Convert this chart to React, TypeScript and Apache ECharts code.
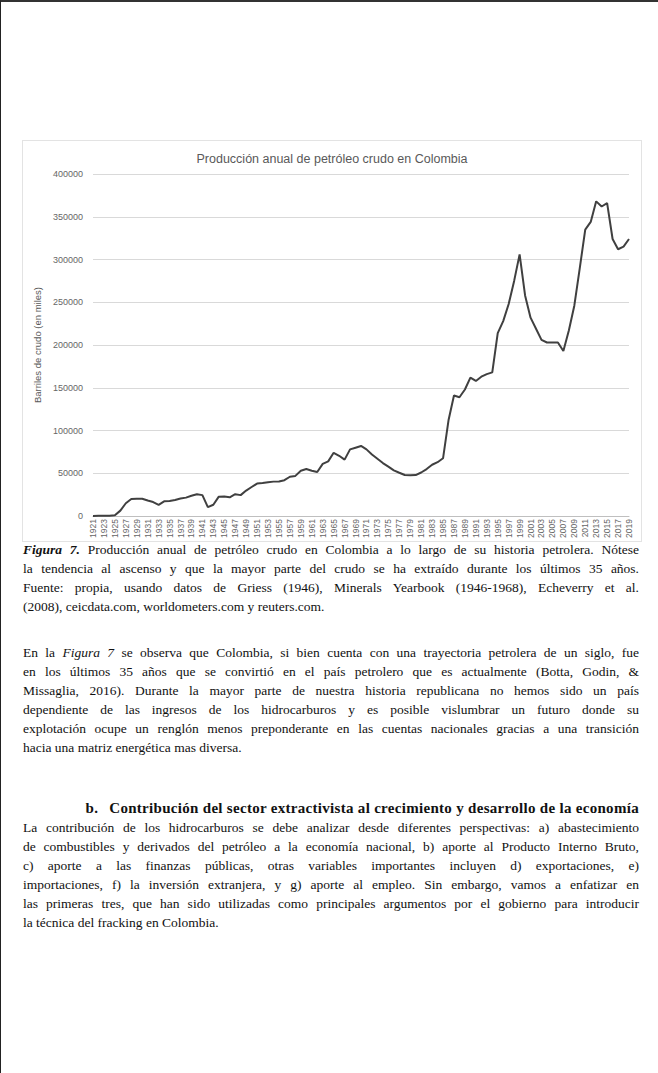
import React, { useEffect, useRef } from "react";
import * as echarts from "echarts";

const chartTitle = "Producción anual de petróleo crudo en Colombia";
const yAxisName = "Barriles de crudo (en miles)";

const years: string[] = Array.from({ length: 99 }, (_, i) => String(1921 + i));

const production: number[] = [
  100, 300, 400, 500, 1000, 6400, 15000, 20000, 20400, 20300,
  18200, 16400, 13200, 17300, 17600, 18800, 20500, 21600, 23800, 25600,
  24500, 10500, 13300, 22700, 22800, 22000, 25600, 24500, 29800, 34000,
  38000, 38700, 39600, 40300, 40500, 42000, 46000, 47000, 53000, 55000,
  53000, 51500, 61000, 64000, 74000, 70500, 66000, 78000, 80000, 82000,
  78000, 72000, 67000, 62000, 57800, 53500, 50700, 48000, 47800, 48000,
  51000, 55000, 60000, 63000, 67600, 112000, 141000, 139000, 148000, 162000,
  158000, 163000, 166000, 168000, 214000, 228000, 248000, 275000, 306000, 258000,
  232000, 219000, 206000, 203000, 203000, 203000, 193000, 217000, 246000, 290000,
  335000, 344000, 368000, 362000, 366000, 324000, 312000, 315000, 324000,
];

const captionLines: string[] = [
  "<i><b>Figura 7.</b></i> Producción anual de petróleo crudo en Colombia a lo largo de su historia petrolera. Nótese",
  "la tendencia al ascenso y que la mayor parte del crudo se ha extraído durante los últimos 35 años.",
  "Fuente: propia, usando datos de Griess (1946), Minerals Yearbook (1946-1968), Echeverry et al.",
  "(2008), ceicdata.com, worldometers.com y reuters.com.",
];

const para1Lines: string[] = [
  "En la <i>Figura 7</i> se observa que Colombia, si bien cuenta con una trayectoria petrolera de un siglo, fue",
  "en los últimos 35 años que se convirtió en el país petrolero que es actualmente (Botta, Godin, &amp;",
  "Missaglia, 2016). Durante la mayor parte de nuestra historia republicana no hemos sido un país",
  "dependiente de las ingresos de los hidrocarburos y es posible vislumbrar un futuro donde su",
  "explotación ocupe un renglón menos preponderante en las cuentas nacionales gracias a una transición",
  "hacia una matriz energética mas diversa.",
];

const headingText = "Contribución del sector extractivista al crecimiento y desarrollo de la economía";

const para2Lines: string[] = [
  "La contribución de los hidrocarburos se debe analizar desde diferentes perspectivas: a) abastecimiento",
  "de combustibles y derivados del petróleo a la economía nacional, b) aporte al Producto Interno Bruto,",
  "c) aporte a las finanzas públicas, otras variables importantes incluyen d) exportaciones, e)",
  "importaciones, f) la inversión extranjera, y g) aporte al empleo. Sin embargo, vamos a enfatizar en",
  "las primeras tres, que han sido utilizadas como principales argumentos por el gobierno para introducir",
  "la técnica del fracking en Colombia.",
];

const SERIF = '"Liberation Serif", "Times New Roman", serif';
const SANS = '"Liberation Sans", Arial, sans-serif';
const LH = 19;
const TEXT_LEFT = 22;
const TEXT_W = 616;

function TextBlock({ lines, top }: { lines: string[]; top: number }) {
  return (
    <>
      {lines.map((l, i) => (
        <div
          key={i}
          style={{
            position: "absolute",
            left: TEXT_LEFT,
            width: TEXT_W,
            top: top + i * LH,
            height: LH,
            lineHeight: LH + "px",
            fontFamily: SERIF,
            fontSize: 13.5,
            color: "#111",
            textAlign: "justify",
            textAlignLast: i === lines.length - 1 ? "left" : "justify",
            whiteSpace: "nowrap",
          } as React.CSSProperties}
          dangerouslySetInnerHTML={{ __html: l }}
        />
      ))}
    </>
  );
}

export default function App() {
  const ref = useRef<HTMLDivElement>(null);
  useEffect(() => {
    if (!ref.current) return;
    const chart = echarts.init(ref.current, null, { renderer: "svg" });
    chart.setOption({
      animation: false,
      backgroundColor: "#ffffff",
      title: {
        text: chartTitle,
        left: "center",
        top: 6,
        textStyle: { fontFamily: SANS, fontSize: 12.5, fontWeight: "normal", color: "#595959" },
      },
      grid: { left: 70, right: 12, top: 33, bottom: 24 },
      xAxis: {
        type: "category",
        data: years,
        boundaryGap: false,
        axisLine: { lineStyle: { color: "#bfbfbf" } },
        axisTick: { show: false },
        axisLabel: { rotate: 90, interval: 1, fontSize: 8.5, color: "#666666", margin: 3, fontFamily: SANS },
      },
      yAxis: {
        type: "value",
        min: 0,
        max: 400000,
        interval: 50000,
        name: yAxisName,
        nameLocation: "middle",
        nameGap: 42,
        nameTextStyle: { fontSize: 9.5, color: "#595959", fontFamily: SANS },
        axisLine: { show: false },
        axisTick: { show: false },
        axisLabel: {
          fontSize: 9,
          color: "#666666",
          margin: 10,
          fontFamily: SANS,
          formatter: (v: number) => String(v),
        },
        splitLine: { lineStyle: { color: "#d9d9d9" } },
      },
      series: [
        {
          type: "line",
          data: production,
          symbol: "none",
          lineStyle: { color: "#404040", width: 2 },
        },
      ],
    });
    return () => chart.dispose();
  }, []);

  return (
    <div
      style={{
        position: "absolute",
        left: 0,
        top: 0,
        width: 658,
        height: 1073,
        boxSizing: "border-box",
        borderTop: "2px solid #333",
        borderLeft: "1px solid #222",
        background: "#fff",
        overflow: "hidden",
      }}
    >
      <div
        ref={ref}
        style={{
          position: "absolute",
          left: 21,
          top: 138,
          width: 618,
          height: 400,
          border: "1px solid #e3e3e3",
        }}
      />
      <TextBlock lines={captionLines} top={538} />
      <TextBlock lines={para1Lines} top={641} />
      <div
        style={{
          position: "absolute",
          left: TEXT_LEFT,
          width: TEXT_W,
          top: 797,
          height: LH,
          lineHeight: LH + "px",
          fontFamily: SERIF,
          fontSize: 15,
          letterSpacing: 0.3,
          fontWeight: "bold",
          color: "#111",
          textAlign: "right",
          whiteSpace: "nowrap",
        }}
      >
        <span style={{ marginRight: 11 }}>b.</span>
        {headingText}
      </div>
      <TextBlock lines={para2Lines} top={816} />
    </div>
  );
}
